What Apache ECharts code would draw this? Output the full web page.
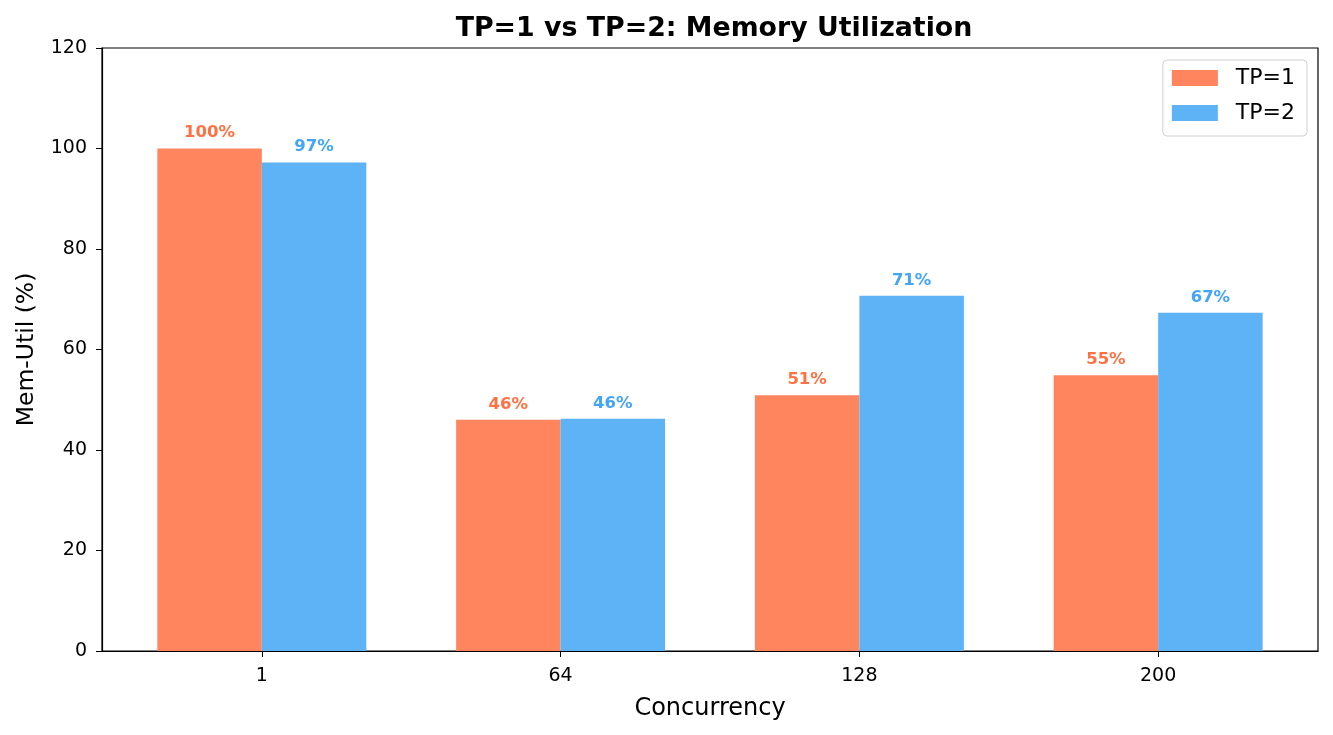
<!DOCTYPE html>
<html>
<head>
<meta charset="utf-8">
<script src="https://cdn.jsdelivr.net/npm/echarts@6/dist/echarts.min.js"></script>
<style>
  html, body { margin: 0; padding: 0; background: #fff; }
  #chart { width: 1333px; height: 735px; }
</style>
</head>
<body>
<div id="chart"></div>
<script>
// data
const categories = ['1', '64', '128', '200'];
const tp1 = [100, 46.0, 50.9, 54.9];
const tp2 = [97.2, 46.2, 70.7, 67.3];
const yTicks = [0, 20, 40, 60, 80, 100, 120];

const FONT = 'DejaVu Sans';
const chart = echarts.init(document.getElementById('chart'));

function barData(vals) {
  return vals.map((v, i) => [i, v]);
}

function labelCfg(color) {
  return {
    show: true,
    position: 'top',
    distance: 7,
    color: color,
    fontFamily: FONT,
    fontWeight: 'bold',
    fontSize: 16.5,
    formatter: p => Math.round(p.value[1]) + '%'
  };
}

chart.setOption({
  animation: false,
  textStyle: { fontFamily: FONT },
  title: {
    text: 'TP=1 vs TP=2: Memory Utilization',
    left: 709,
    top: 11,
    textAlign: 'center',
    textStyle: { fontFamily: FONT, fontSize: 26.8, fontWeight: 'bold', color: '#000' }
  },
  legend: {
    orient: 'vertical',
    right: 26,
    top: 60,
    padding: [7, 12, 12, 9],
    itemWidth: 46,
    itemHeight: 16,
    itemGap: 13,
    borderColor: '#d0d0d0',
    borderWidth: 1,
    borderRadius: 4,
    textStyle: { fontFamily: FONT, fontSize: 22, color: '#000', padding: [0, 0, 0, 13] },
    data: [
      { name: 'TP=1', icon: 'rect' },
      { name: 'TP=2', icon: 'rect' }
    ]
  },
  grid: {
    left: 102, right: 15, top: 48, bottom: 84,
    show: true, borderColor: '#000', borderWidth: 1.2, backgroundColor: 'transparent'
  },
  xAxis: {
    type: 'value',
    min: -0.535,
    max: 3.535,
    name: 'Concurrency',
    nameLocation: 'middle',
    nameGap: 46,
    nameTextStyle: { fontFamily: FONT, fontSize: 24, color: '#000' },
    axisLine: { show: true, onZero: false, lineStyle: { color: '#000', width: 1.2 } },
    axisTick: { show: true, length: 6, customValues: [0, 1, 2, 3], lineStyle: { color: '#000' } },
    axisLabel: {
      customValues: [0, 1, 2, 3],
      formatter: v => categories[Math.round(v)],
      fontFamily: FONT, fontSize: 19, color: '#000', margin: 16
    },
    splitLine: { show: false }
  },
  yAxis: {
    type: 'value',
    min: 0,
    max: 120,
    interval: 20,
    name: 'Mem-Util (%)',
    nameLocation: 'middle',
    nameGap: 63,
    nameTextStyle: { fontFamily: FONT, fontSize: 23.5, color: '#000' },
    axisLine: { show: true, onZero: false, lineStyle: { color: '#000', width: 1.2 } },
    axisTick: { show: true, length: 6, inside: false, lineStyle: { color: '#000' } },
    axisLabel: {
      customValues: yTicks,
      fontFamily: FONT, fontSize: 19, color: '#000', margin: 15
    },
    splitLine: { show: false }
  },
  series: [
    {
      name: 'TP=1',
      type: 'bar',
      data: barData(tp1),
      barWidth: 104.5,
      barGap: '0%',
      itemStyle: { color: '#FF855F' },
      label: labelCfg('#FF7043')
    },
    {
      name: 'TP=2',
      type: 'bar',
      data: barData(tp2),
      barWidth: 104.5,
      barGap: '0%',
      itemStyle: { color: '#5EB2F6' },
      label: labelCfg('#42A5F5')
    }
  ]
});
</script>
</body>
</html>
